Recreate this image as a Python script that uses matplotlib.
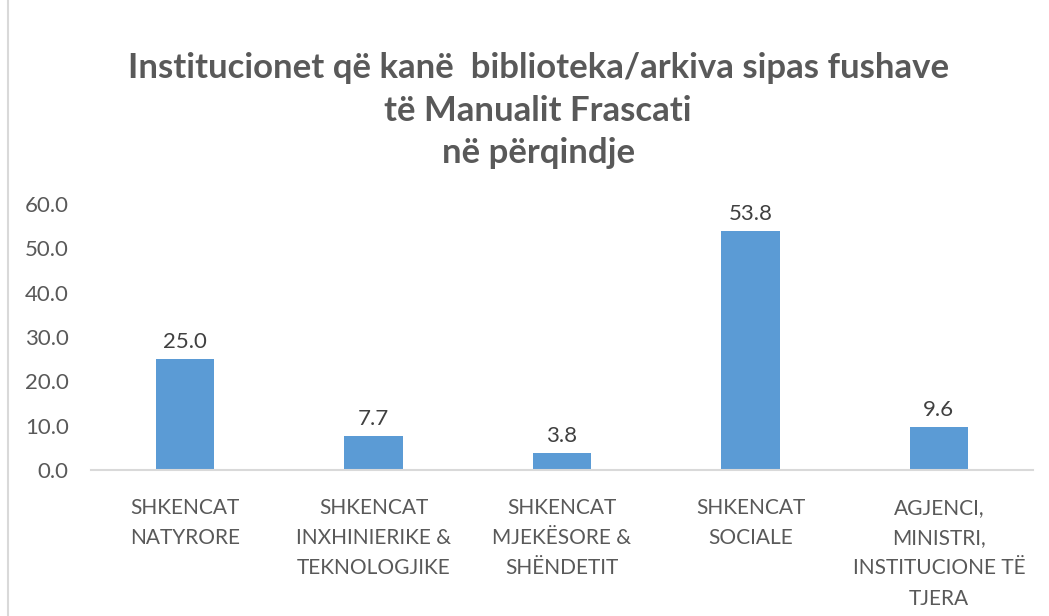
import matplotlib
matplotlib.use('Agg')
from matplotlib import pyplot as plt
from matplotlib.lines import Line2D

plt.rcParams['font.family'] = ['Lato', 'DejaVu Sans']

# te dhenat
kategorite = ['SHKENCAT\nNATYRORE',
              'SHKENCAT\nINXHINIERIKE &\nTEKNOLOGJIKE',
              'SHKENCAT\nMJEKËSORE &\nSHËNDETIT',
              'SHKENCAT\nSOCIALE',
              'AGJENCI,\nMINISTRI,\nINSTITUCIONE TË\nTJERA']
vlerat = [25.0, 7.7, 3.8, 53.8, 9.6]
yticks = [0, 10, 20, 30, 40, 50, 60]
titulli = 'Institucionet që kanë  biblioteka/arkiva sipas fushave\ntë Manualit Frascati\nnë përqindje'

gri = '#595959'
blu = '#5B9BD5'

fig = plt.figure(figsize=(10.49, 6.16), dpi=100)
ax = fig.add_axes([0.0868, 0.237, 0.898, 0.432])

x = list(range(len(vlerat)))
ax.bar(x, vlerat, width=0.31, color=blu, zorder=2)
for i, y in enumerate(vlerat):
    ax.text(i, y + 1.6, '{:.1f}'.format(y), ha='center', va='bottom',
            fontsize=16, color='#404040')

ax.set_xlim(-0.5, len(vlerat) - 0.5)
ax.set_ylim(0, 60)
ax.set_yticks(yticks)
ax.set_yticklabels(['{:.1f}'.format(v) for v in yticks], fontsize=16, color=gri)
ax.set_xticks(x)
ax.set_xticklabels(kategorite, fontsize=15, color=gri, linespacing=1.64, va='top')
ax.tick_params(axis='both', length=0)
ax.tick_params(axis='y', pad=16)
ax.tick_params(axis='x', pad=20)
for s in ['top', 'right', 'left']:
    ax.spines[s].set_visible(False)
ax.spines['bottom'].set_color('#D9D9D9')
ax.spines['bottom'].set_linewidth(1.5)

fig.text(0.513, 0.915, titulli, ha='center', va='top', fontsize=25,
         fontweight='bold', color=gri, linespacing=1.4)

# kufiri majtas
fig.add_artist(Line2D([8 / 1049, 8 / 1049], [0, 1], color='#D9D9D9', lw=1.5,
                      transform=fig.transFigure))

plt.savefig('out.png', dpi=100)
